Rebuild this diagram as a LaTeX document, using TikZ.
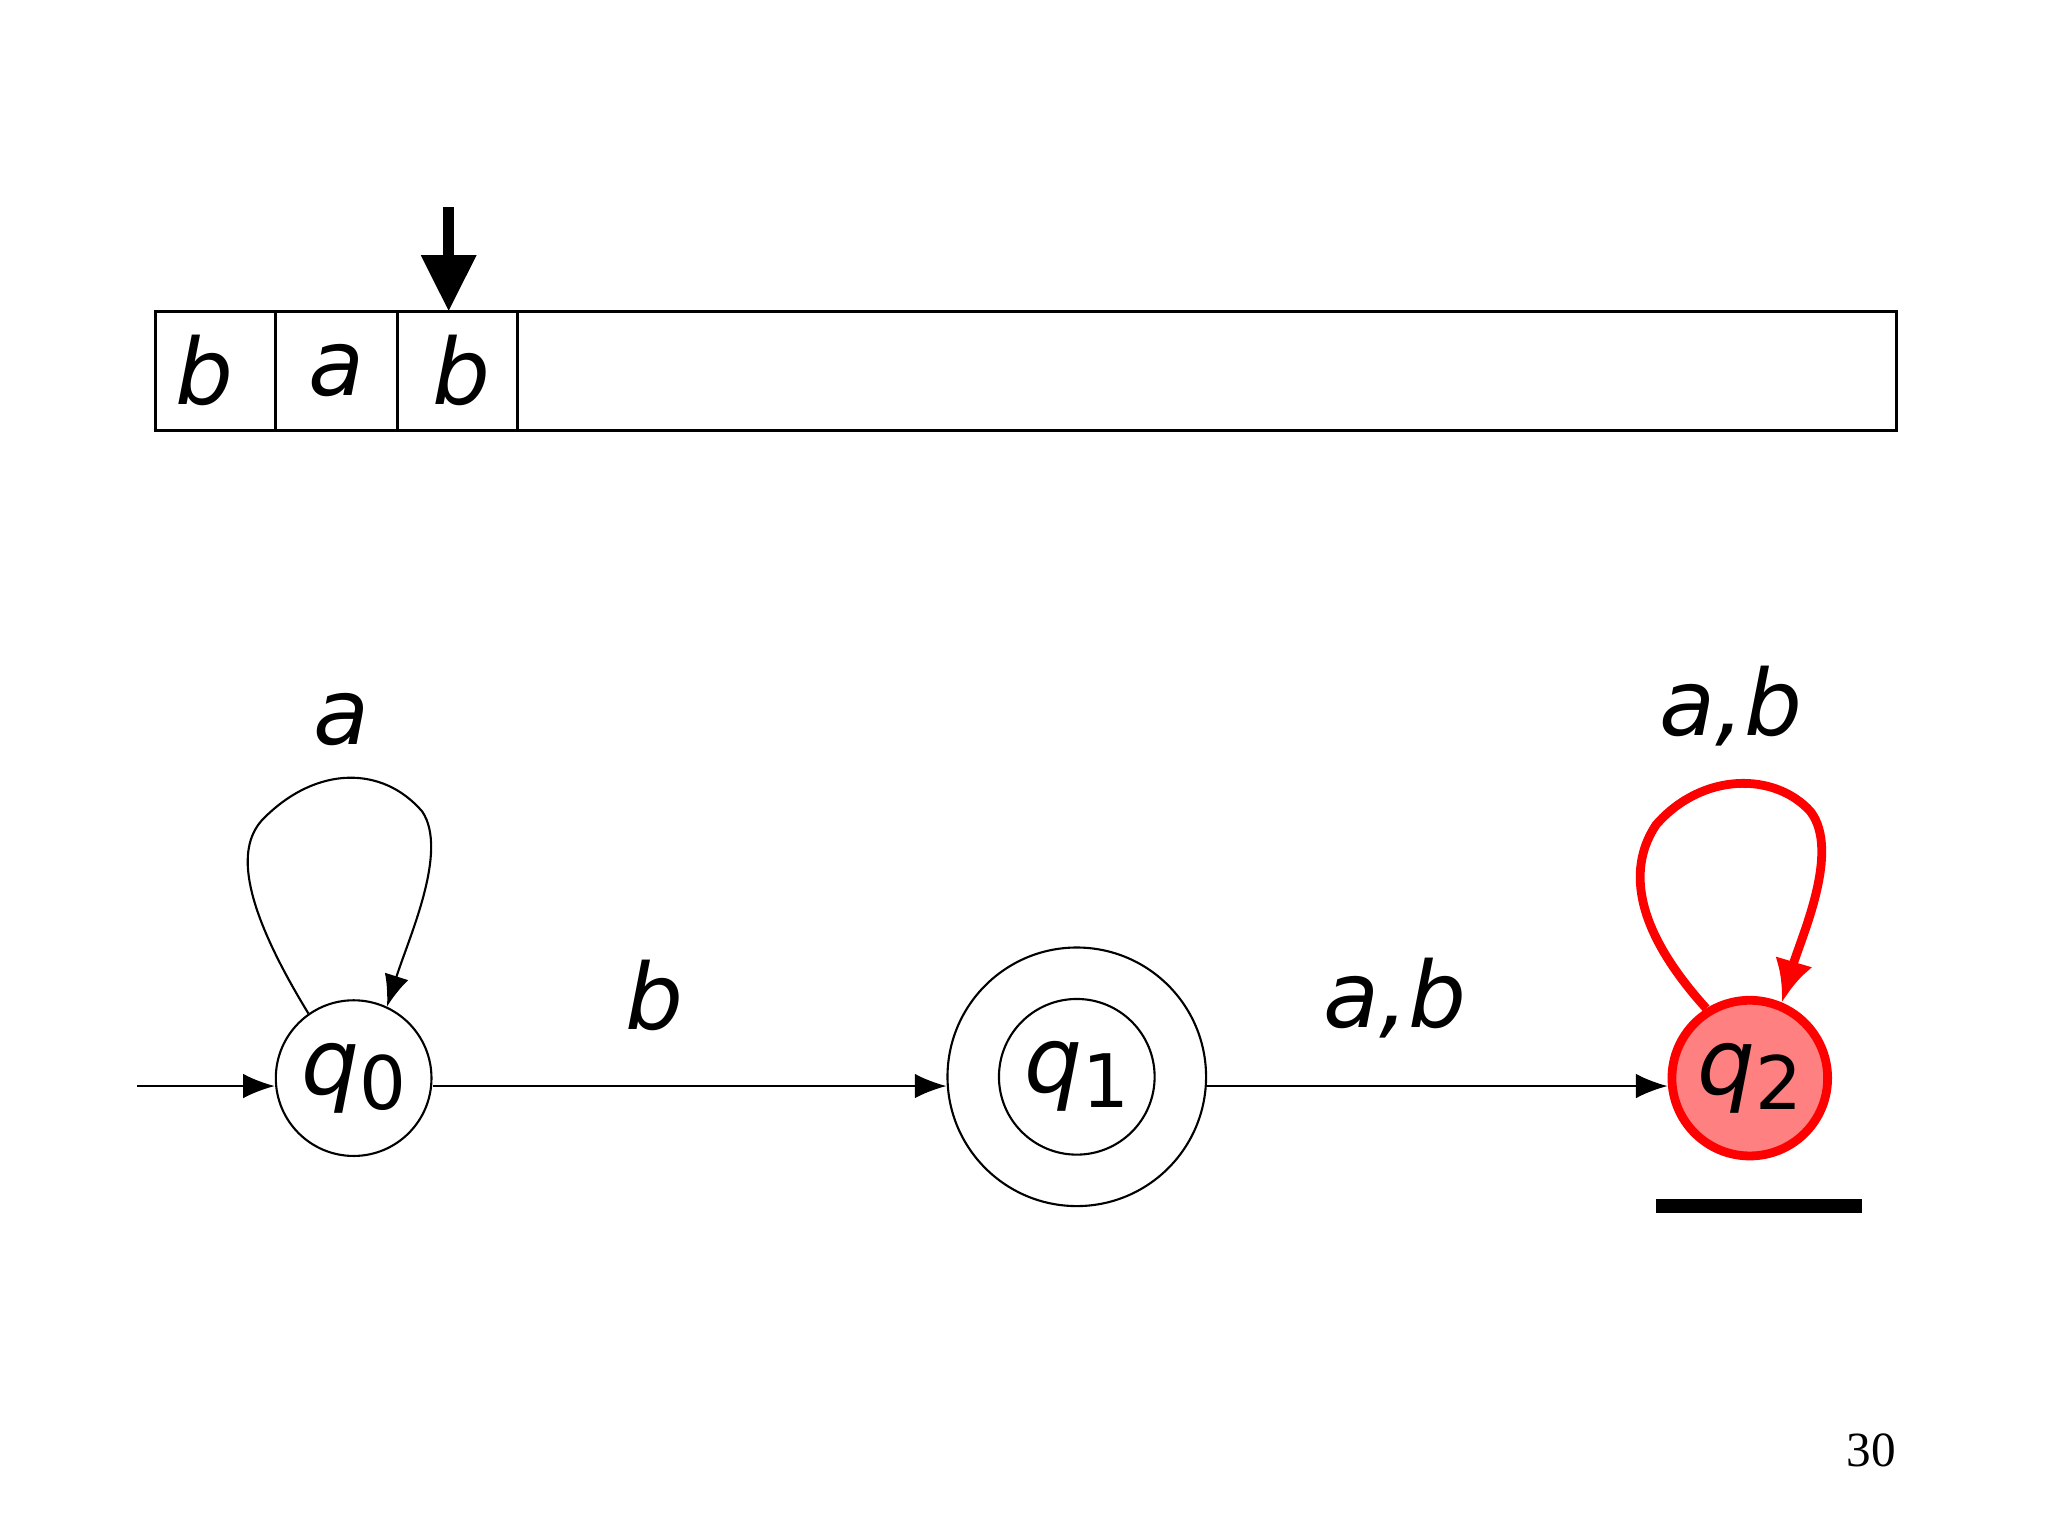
\documentclass[tikz,border=0pt]{standalone}
\usepackage{fontspec}
\setmainfont{Liberation Serif}
\newfontfamily\lab{DejaVu Sans}
\usetikzlibrary{arrows.meta}
\newcommand{\subs}[1]{\raisebox{-0.3ex}{\fontsize{21}{24}\selectfont\upshape #1}}
\begin{document}
\begin{tikzpicture}[x=0.013196cm,y=-0.013196cm,
  st/.style={circle,draw,line width=0.6pt,minimum size=118*0.13196mm,inner sep=0pt},
  sym/.style={font=\lab\itshape\fontsize{26}{30}\selectfont},
  tr/.style={line width=0.6pt,-{Latex[length=9pt,width=7pt]}}]
\useasboundingbox (0,0) rectangle (1552,1164);
% tape
\draw[line width=0.8pt] (118,236) rectangle (1437,326);
\foreach \x in {209,301,392} \draw[line width=0.8pt] (\x,236) -- (\x,326);
\node[sym] (t1) at (155,281) {b};
\node[sym] (t2) at (255,281) {a};
\node[sym] (t3) at (350,281) {b};
\coordinate (h0) at (340,157);
\coordinate (h1) at (340,236);
\draw[line width=3pt,-{Triangle[length=16pt,width=15pt]}] (h0) -- (h1);
% states
\node[st] (q0) at (268,817) {};
\node[sym] at (q0) {q\subs{0}};
\node[st,minimum size=196*0.13196mm] (q1o) at (816,816) {};
\node[st] (q1) at (816,816) {};
\node[sym] at (q1) {q\subs{1}};
\node[st,draw=red,fill={rgb,255:red,255;green,128;blue,128},line width=2.5pt] (q2) at (1326,817) {};
\node[sym] at (q2) {q\subs{2}};
\coordinate (s) at (104,823);
\draw[tr] (s) -- (q0.west|-s);
\draw[tr] (q0.east|-s) -- node[sym,above=12pt,xshift=-10pt] {b} (q1o.west|-s);
\draw[tr] (q1o.east|-s) -- node[sym,above=10pt,xshift=-12pt] {a,b} (q2.west|-s);
% loops
\draw[tr] (q0.125) .. controls (180,680) and (180,640) .. (200,620) .. controls (240,580) and (290,580) .. (320,615) .. controls (340,645) and (310,710) .. (q0.65);
\node[sym] at (259,545) {a};
\draw[tr,draw=red,line width=2.5pt,-{Latex[length=12pt,width=11pt]}] (q2.122) .. controls (1235,700) and (1235,655) .. (1255,625) .. controls (1290,585) and (1345,585) .. (1372,615) .. controls (1395,645) and (1365,710) .. (q2.67);
\node[sym] at (1312,535) {a,b};
\coordinate (u0) at (1255,914);
\coordinate (u1) at (1411,914);
\draw[line width=4pt] (u0) -- (u1);
\node[font=\fontsize{14}{16}\selectfont] (pg) at (1418,1099) {30};
\end{tikzpicture}
\end{document}
